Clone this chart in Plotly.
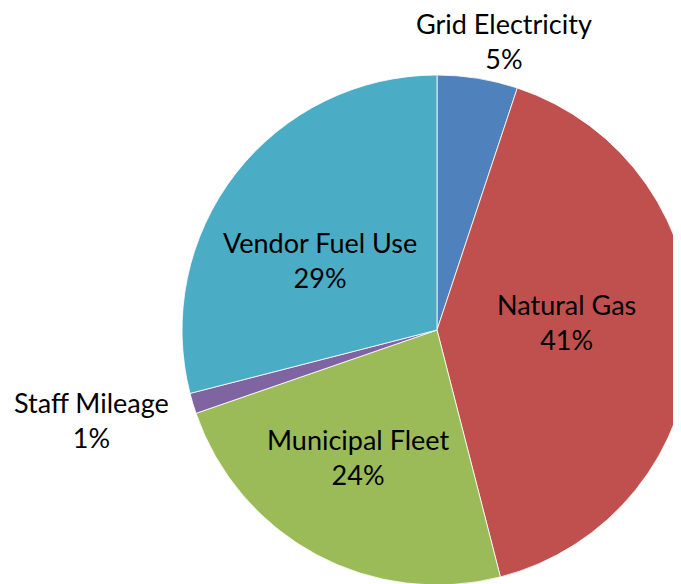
import math
import plotly.graph_objects as go

categories = ["Grid Electricity", "Natural Gas", "Municipal Fleet", "Staff Mileage", "Vendor Fuel Use"]
values = [5.1, 40.9, 23.7, 1.3, 29.0]
pct_labels = ["5%", "41%", "24%", "1%", "29%"]
colors = ["#4F81BD", "#C0504D", "#9BBB59", "#8064A2", "#4BACC6"]
# label placement (radius factor and angular nudge in degrees)
label_radius = [1.165, 0.51, 0.585, 1.40, 0.535]
label_nudge = [3.8, -5.4, 3.6, 2.1, -6.9]

W, H = 700, 584
dom_x = [0.2486, 0.9771]
dom_y = [0.012, 0.8853]

fig = go.Figure(go.Pie(
    labels=categories,
    values=values,
    sort=False,
    direction="clockwise",
    rotation=0,
    marker=dict(colors=colors, line=dict(color="rgba(255,255,255,0.8)", width=1)),
    textinfo="none",
    hoverinfo="label+percent",
    showlegend=False,
    domain=dict(x=dom_x, y=dom_y),
))

# pie geometry in pixels (from the domain)
wpx = (dom_x[1] - dom_x[0]) * W
hpx = (dom_y[1] - dom_y[0]) * H
R = min(wpx, hpx) / 2
cx = (dom_x[0] + dom_x[1]) / 2 * W
cy = (dom_y[0] + dom_y[1]) / 2 * H  # from bottom

total = sum(values)
cum = 0.0
annotations = []
for cat, v, p, rf, nd in zip(categories, values, pct_labels, label_radius, label_nudge):
    mid = (cum + v / 2) / total * 2 * math.pi + math.radians(nd)
    cum += v
    x = cx + rf * R * math.sin(mid)
    y = cy + rf * R * math.cos(mid)
    annotations.append(dict(
        x=x / W, y=y / H, xref="paper", yref="paper",
        text=f"{cat}<br>{p}", showarrow=False,
        xanchor="center", yanchor="middle", borderpad=0,
        font=dict(family="Lato", size=27, color="#000000"),
    ))

fig.update_layout(
    width=W, height=H,
    margin=dict(l=0, r=0, t=0, b=0),
    paper_bgcolor="white",
    plot_bgcolor="white",
    annotations=annotations,
)

fig.write_html(
    "out.html",
    post_script="document.documentElement.style.overflow='hidden';document.body.style.overflow='hidden';",
)
